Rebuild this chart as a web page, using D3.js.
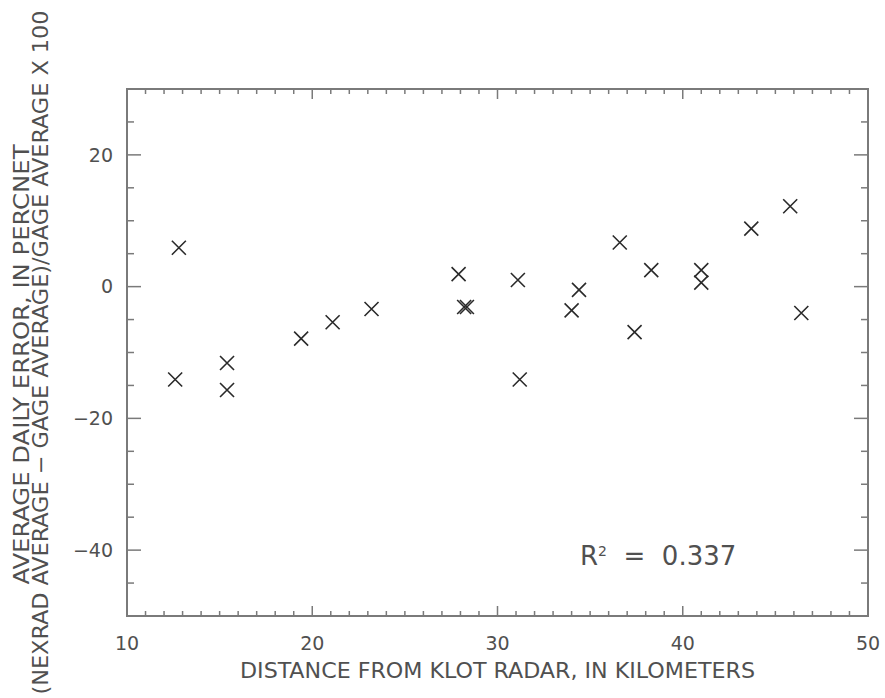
<!DOCTYPE html>
<html>
<head>
<meta charset="utf-8">
<script src="https://cdn.jsdelivr.net/npm/d3@7"></script>
<style>
  body { margin: 0; background: #fff; }
  text { font-family: "DejaVu Sans Condensed", "DejaVu Sans", sans-serif; fill: #505050; }
</style>
</head>
<body>
<div class="canvas"></div>
<script>
// distance from KLOT radar (km) and average daily error (%)
const distances = [12.8, 12.6, 15.4, 15.4, 19.4, 21.1, 23.2, 27.9, 28.2, 28.35, 31.1, 31.2, 34.0, 34.4, 36.6, 37.4, 38.3, 41.0, 41.0, 43.7, 45.8, 46.4];
const errors    = [5.9, -14.1, -11.6, -15.7, -7.9, -5.4, -3.4, 1.9, -3.1, -3.1, 1.0, -14.1, -3.6, -0.5, 6.7, -6.9, 2.5, 2.5, 0.6, 8.8, 12.2, -4.0];

const xTicks = [10, 20, 30, 40, 50];
const yTicks = [-40, -20, 0, 20];
const rSquared = '0.337';

draw_scatter();

function draw_scatter(){

    const svg = d3.select('.canvas')
        .append('svg')
        .attr('width', 885)
        .attr('height', 698);

    const left = 127, right = 868, top = 89, bottom = 616;

    const x = d3.scaleLinear().domain([10, 50]).range([left, right]);
    const y = d3.scaleLinear().domain([-50, 30]).range([bottom, top]);

    const axisColor = '#7a7a7a';

    // frame
    svg.append('rect')
        .attr('x', left).attr('y', top)
        .attr('width', right - left).attr('height', bottom - top)
        .attr('fill', 'none')
        .attr('stroke', axisColor)
        .attr('stroke-width', 2);

    // x ticks, bottom and top (major every 10, minor every 1)
    const xMinor = d3.range(11, 50).filter(v => v % 10 !== 0);
    const xt = svg.append('g').attr('stroke', axisColor).attr('stroke-width', 1.5);
    xMinor.forEach(v => {
        xt.append('line').attr('x1', x(v)).attr('x2', x(v)).attr('y1', bottom).attr('y2', bottom - 5);
        xt.append('line').attr('x1', x(v)).attr('x2', x(v)).attr('y1', top).attr('y2', top + 5);
    });
    xTicks.slice(1, -1).forEach(v => {
        xt.append('line').attr('x1', x(v)).attr('x2', x(v)).attr('y1', bottom).attr('y2', bottom - 10);
        xt.append('line').attr('x1', x(v)).attr('x2', x(v)).attr('y1', top).attr('y2', top + 10);
    });

    // y ticks, left and right (major every 20, minor every 5)
    const yMinor = d3.range(-45, 30, 5).filter(v => v % 20 !== 0);
    yMinor.forEach(v => {
        xt.append('line').attr('x1', left).attr('x2', left + 7).attr('y1', y(v)).attr('y2', y(v));
        xt.append('line').attr('x1', right).attr('x2', right - 7).attr('y1', y(v)).attr('y2', y(v));
    });
    yTicks.forEach(v => {
        xt.append('line').attr('x1', left).attr('x2', left + 14).attr('y1', y(v)).attr('y2', y(v));
        xt.append('line').attr('x1', right).attr('x2', right - 14).attr('y1', y(v)).attr('y2', y(v));
    });

    // tick labels
    svg.selectAll('.xlab')
        .data(xTicks)
        .enter().append('text')
        .attr('x', d => x(d))
        .attr('y', 650)
        .attr('text-anchor', 'middle')
        .style('font-family', '"DejaVu Sans", sans-serif')
        .style('font-size', '19px')
        .text(d => d);

    svg.selectAll('.ylab')
        .data(yTicks)
        .enter().append('text')
        .attr('x', 113)
        .attr('y', d => y(d))
        .attr('dy', '0.36em')
        .attr('text-anchor', 'end')
        .style('font-family', '"DejaVu Sans", sans-serif')
        .style('font-size', '19px')
        .text(d => d < 0 ? '\u2212' + Math.abs(d) : d);

    // axis titles
    svg.append('text')
        .attr('x', (left + right) / 2)
        .attr('y', 678)
        .attr('text-anchor', 'middle')
        .attr('textLength', 515)
        .attr('lengthAdjust', 'spacingAndGlyphs')
        .style('font-size', '21px')
        .text('DISTANCE FROM KLOT RADAR, IN KILOMETERS');

    const cy = (top + bottom) / 2;
    svg.append('text')
        .attr('transform', `translate(29, ${cy + 12}) rotate(-90)`)
        .attr('text-anchor', 'middle')
        .attr('textLength', 440)
        .attr('lengthAdjust', 'spacingAndGlyphs')
        .style('font-size', '21px')
        .text('AVERAGE DAILY ERROR, IN PERCNET');

    svg.append('text')
        .attr('transform', `translate(48, ${cy}) rotate(-90)`)
        .attr('text-anchor', 'middle')
        .attr('textLength', 684)
        .attr('lengthAdjust', 'spacingAndGlyphs')
        .style('font-size', '21px')
        .text('(NEXRAD AVERAGE \u2212 GAGE AVERAGE)/GAGE AVERAGE X 100');

    // R squared note
    const note = svg.append('text')
        .attr('x', 580)
        .attr('y', 565)
        .style('font-family', '"DejaVu Sans", sans-serif')
        .style('font-size', '26px');
    note.append('tspan').text('R');
    note.append('tspan').attr('dy', -9).style('font-size', '14px').text('2');
    note.append('tspan').attr('dy', 9).text('  =  ' + rSquared).attr('xml:space', 'preserve');

    // points as X markers
    const pts = distances.map((d, i) => ({ d: d, e: errors[i] }));
    const s = 7;
    svg.append('g')
        .selectAll('path')
        .data(pts)
        .enter().append('path')
        .attr('d', p => {
            const px = x(p.d), py = y(p.e);
            return `M${px - s},${py - s}L${px + s},${py + s}M${px - s},${py + s}L${px + s},${py - s}`;
        })
        .attr('stroke', '#2a2a2a')
        .attr('stroke-width', 1.6)
        .attr('fill', 'none');
}
</script>
</body>
</html>
